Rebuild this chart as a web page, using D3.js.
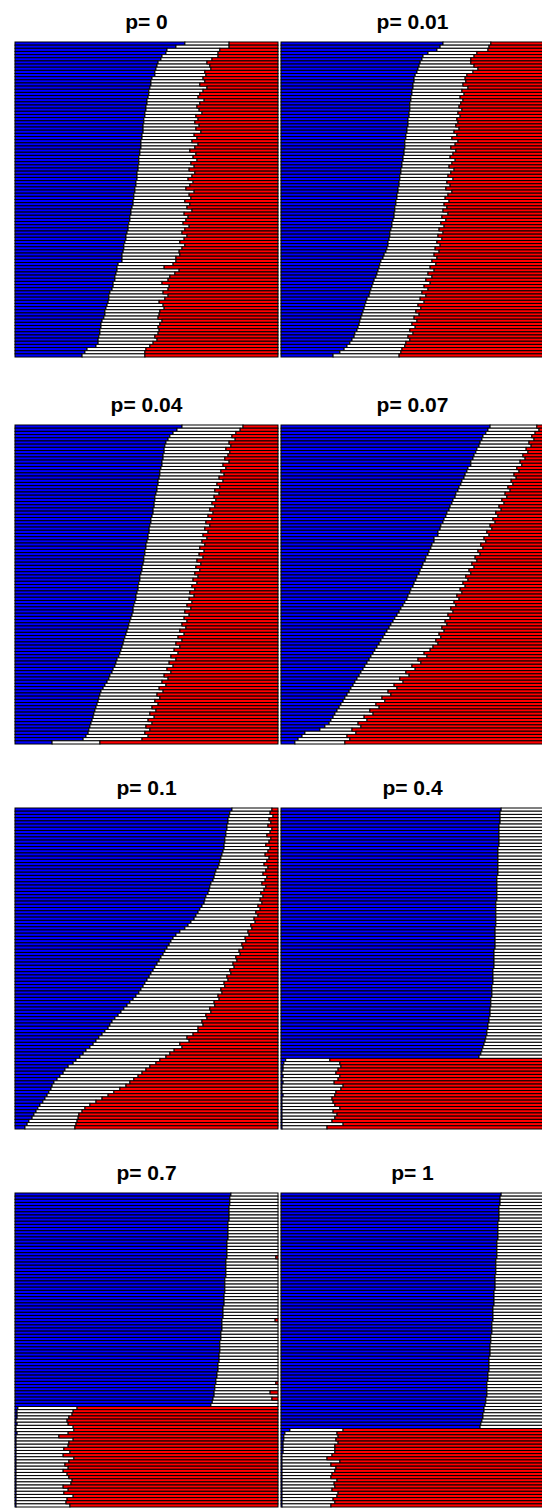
<!DOCTYPE html>
<html>
<head>
<meta charset="utf-8">
<script src="https://cdn.jsdelivr.net/npm/d3@7"></script>
<style>
  body { margin: 0; background: #fff; }
  svg { display: block; }
</style>
</head>
<body>
<svg id="chart" width="542" height="1508"></svg>
<script>
'use strict'

// panel titles
var titles = ["p= 0", "p= 0.01", "p= 0.04", "p= 0.07", "p= 0.1", "p= 0.4", "p= 0.7", "p= 1"];

// shares in %, first value = top bar; white is what is left over
var blue0 = [
  64.6,61.2,57.8,57.4,55.9,55.5,54.4,54.0,53.6,53.2,
  53.2,52.1,51.7,51.7,51.3,50.9,50.9,50.6,50.2,50.2,
  49.8,49.8,49.4,49.4,49.0,49.0,48.7,48.7,48.7,48.3,
  48.3,47.9,47.9,47.9,47.5,47.5,47.1,47.1,47.1,46.8,
  46.8,46.4,46.4,46.4,46.0,46.0,45.6,45.6,45.2,45.2,
  44.9,44.9,44.5,44.1,44.1,43.7,43.7,43.3,43.0,43.0,
  42.6,42.2,42.2,41.8,41.4,41.4,41.1,40.7,40.7,40.7,
  39.2,38.8,38.8,38.4,38.0,38.0,37.3,37.3,36.9,36.1,
  35.7,35.7,35.4,35.0,34.6,34.2,34.2,33.8,33.1,32.7,
  32.7,32.3,32.3,31.9,31.6,31.6,30.8,27.4,26.6,25.5
];
var red0 = [
  18.6,18.6,22.1,22.8,22.8,25.1,27.0,25.9,25.5,27.8,
  27.4,28.5,27.8,29.7,27.0,28.5,29.7,30.4,28.1,29.7,
  30.8,30.0,28.9,31.2,30.4,31.6,30.0,31.2,29.3,31.9,
  30.8,32.7,30.4,31.6,33.5,31.2,32.3,30.8,33.1,31.9,
  33.8,31.6,32.7,34.2,32.3,33.5,35.0,31.9,33.8,33.1,
  35.4,33.5,34.6,32.7,35.7,34.2,35.0,36.1,33.8,35.4,
  36.5,34.6,35.7,37.3,35.4,36.5,37.6,37.3,38.8,38.8,
  39.9,43.3,37.6,39.2,41.1,41.8,44.1,41.4,41.8,43.7,
  41.8,43.0,45.2,43.7,43.3,44.9,45.2,45.6,44.1,44.9,
  45.6,45.2,45.6,46.8,46.0,47.5,48.7,50.2,50.6,50.6
];

var blue1 = [
  61.6,60.5,59.3,55.9,54.0,53.6,52.9,52.5,52.1,51.7,
  51.0,50.6,50.6,50.2,50.2,49.8,49.8,49.4,49.4,49.0,
  49.0,49.0,48.7,48.7,48.3,48.3,48.3,47.9,47.9,47.5,
  47.5,47.1,47.1,47.1,46.8,46.8,46.4,46.4,46.0,46.0,
  45.6,45.6,45.2,45.2,44.9,44.9,44.5,44.5,44.1,44.1,
  43.7,43.7,43.3,43.3,43.0,43.0,42.6,42.2,42.2,41.8,
  41.4,41.4,41.1,40.7,40.7,40.3,39.9,39.2,38.8,38.0,
  37.6,37.3,36.9,36.5,36.1,35.4,35.0,34.6,34.2,33.8,
  33.5,32.7,32.3,31.9,31.6,31.2,30.8,30.4,30.0,29.7,
  29.3,28.9,28.1,27.8,27.0,26.2,25.1,24.0,22.4,19.8
];
var red1 = [
  20.2,20.9,21.3,25.5,26.6,27.8,27.8,26.6,25.1,27.0,
  29.3,30.0,29.7,30.8,28.9,31.2,30.4,31.9,30.8,31.6,
  32.3,31.2,32.7,31.9,33.1,32.7,33.5,32.3,34.2,33.1,
  35.0,32.7,33.8,35.4,33.5,34.6,35.7,33.8,35.0,36.1,
  34.2,35.4,36.5,34.6,36.9,35.7,37.3,35.0,36.5,37.6,
  36.1,38.0,36.9,38.4,36.5,38.8,37.3,39.2,38.0,39.9,
  38.4,40.3,38.8,40.7,39.5,41.4,39.9,41.8,40.7,42.6,
  41.1,43.3,41.8,44.1,42.6,44.9,43.3,45.6,44.1,46.4,
  44.9,47.1,45.6,47.9,46.8,48.7,47.5,49.4,48.3,50.2,
  49.0,51.0,49.8,51.7,51.0,52.5,52.9,54.0,54.4,55.1
];

var blue2 = [
  63.5,61.6,60.1,58.9,58.2,57.4,57.0,56.7,56.7,56.3,
  56.3,55.9,55.9,55.5,55.1,55.1,54.8,54.4,54.4,54.0,
  54.0,53.6,53.2,53.2,52.9,52.9,52.5,52.5,52.1,51.7,
  51.7,51.3,51.0,51.0,50.6,50.6,50.2,49.8,49.8,49.4,
  49.4,49.0,49.0,48.7,48.3,48.3,47.9,47.5,47.5,47.1,
  46.8,46.8,46.4,46.0,46.0,45.6,45.2,44.9,44.9,44.5,
  44.1,43.7,43.3,43.0,42.6,42.2,41.8,41.4,41.1,40.7,
  40.3,39.9,39.5,38.8,38.4,38.0,37.3,36.9,36.1,35.7,
  35.0,34.2,33.5,32.7,32.3,31.9,31.6,31.2,30.8,30.4,
  30.0,29.7,29.3,28.9,28.5,28.1,27.8,27.0,25.9,14.1
];
var red2 = [
  13.3,14.4,16.0,17.5,16.3,18.6,17.9,19.8,18.3,19.0,
  20.2,18.6,20.9,19.8,21.7,20.5,22.4,20.9,23.2,22.1,
  24.0,22.4,24.3,23.6,25.1,24.0,25.9,24.7,26.6,25.1,
  27.4,25.9,27.8,26.6,28.5,27.0,28.9,27.8,29.7,28.1,
  30.0,28.5,30.8,29.3,31.2,29.7,31.6,30.4,32.3,30.8,
  32.7,31.6,33.5,31.9,33.8,32.7,34.6,33.1,35.4,33.8,
  35.7,34.6,36.5,35.0,37.3,35.7,38.0,36.5,38.8,37.3,
  39.5,38.0,40.7,38.8,41.4,39.9,42.2,40.7,43.3,41.8,
  44.1,42.6,45.2,43.7,46.0,44.9,46.8,45.6,47.9,46.4,
  48.7,47.1,49.4,47.9,50.2,48.7,50.6,49.4,51.7,67.7
];

var blue3 = [
  79.5,78.7,77.9,76.8,76.4,75.7,75.3,74.5,74.1,73.4,
  73.0,72.2,72.2,71.1,70.7,70.0,69.6,68.8,68.4,67.7,
  67.3,66.5,66.2,65.4,65.0,64.3,63.9,63.1,62.7,62.0,
  61.6,60.8,60.5,59.7,59.7,58.2,58.2,57.4,57.0,56.3,
  55.9,55.1,54.8,54.0,53.6,52.9,52.5,51.7,51.3,50.6,
  50.2,49.4,49.0,48.3,47.9,47.1,46.4,45.6,44.9,44.1,
  43.3,42.6,41.8,41.1,40.3,39.5,38.8,38.0,37.3,36.5,
  35.7,35.0,34.2,33.5,32.7,31.9,31.2,30.4,29.7,28.9,
  28.1,27.4,26.6,25.9,25.1,24.3,23.6,22.8,22.1,21.3,
  20.5,19.8,19.0,18.3,16.7,14.8,9.1,8.0,6.5,5.3
];
var red3 = [
  2.7,1.9,3.4,4.6,3.8,5.7,4.9,6.8,6.1,8.0,
  7.2,9.1,8.4,10.3,9.5,11.4,10.6,12.5,11.8,13.7,
  12.9,14.8,14.1,16.0,15.2,17.1,16.3,18.3,17.5,19.4,
  18.6,20.5,19.8,21.7,20.9,22.8,22.1,24.0,23.2,25.1,
  24.3,26.2,25.5,27.4,26.6,28.5,27.8,29.7,28.9,30.8,
  30.0,31.9,31.2,33.1,32.3,34.2,33.5,35.4,34.6,36.5,
  35.7,37.6,36.9,38.8,38.0,39.9,39.2,41.1,40.3,42.2,
  43.3,45.6,44.5,47.9,46.8,50.2,49.0,52.5,51.3,54.8,
  53.6,57.0,55.9,59.3,58.2,61.6,60.5,63.9,62.7,66.2,
  65.0,68.4,67.3,70.7,69.6,73.0,71.5,74.9,73.8,75.7
];

var blue4 = [
  82.5,81.7,81.4,81.0,81.0,80.6,80.6,80.2,80.2,79.8,
  79.8,79.5,79.5,79.1,78.7,78.3,77.9,77.6,77.2,76.4,
  76.0,75.7,75.3,74.5,74.1,73.8,73.4,72.6,72.2,71.9,
  71.1,70.3,69.6,68.8,68.1,66.9,65.8,64.6,62.7,61.2,
  60.1,59.3,58.6,57.8,57.0,56.3,55.5,54.8,54.0,53.2,
  52.5,51.7,51.0,50.2,49.4,48.7,47.9,47.1,46.0,44.9,
  43.7,42.6,41.4,40.3,39.2,38.0,36.9,36.1,35.4,34.2,
  33.1,31.9,30.8,29.7,28.5,27.0,25.9,24.7,23.2,22.1,
  20.2,19.0,18.3,17.1,16.0,14.8,14.1,13.7,12.9,12.2,
  11.4,10.6,9.5,8.7,8.0,7.2,6.5,5.3,4.6,3.8
];
var red4 = [
  2.3,3.0,1.9,3.4,2.7,3.8,2.3,3.0,4.2,2.7,
  3.4,4.6,3.0,3.8,4.9,3.4,4.2,5.3,3.8,4.6,
  5.7,4.2,4.9,6.1,4.6,5.3,6.5,5.7,6.8,6.1,
  7.6,6.8,8.4,7.6,9.1,8.7,10.3,9.9,11.4,11.0,
  12.5,12.2,13.7,13.3,14.8,14.4,16.0,15.6,17.1,16.7,
  18.3,17.9,19.4,19.0,20.5,20.2,21.7,21.3,22.8,22.4,
  24.3,24.0,25.9,25.5,27.4,27.0,28.9,28.5,30.4,30.4,
  32.3,34.6,33.8,37.3,36.5,39.5,41.1,42.6,44.9,46.4,
  48.7,50.2,51.7,53.2,54.8,56.3,57.8,60.1,62.4,64.6,
  66.9,69.2,71.5,73.4,74.5,75.7,76.0,76.4,76.8,77.2
];

var blue5 = [
  83.7,83.3,83.3,83.3,83.3,82.9,82.9,82.9,82.9,82.9,
  82.9,82.9,82.5,82.5,82.5,82.5,82.5,82.5,82.5,82.5,
  82.5,82.1,82.1,82.1,82.1,82.1,82.1,82.1,82.1,81.7,
  81.7,81.7,81.7,81.7,81.7,81.7,81.7,81.4,81.4,81.4,
  81.4,81.4,81.4,81.4,81.0,81.0,81.0,81.0,81.0,81.0,
  80.6,80.6,80.6,80.6,80.6,80.2,80.2,80.2,80.2,79.8,
  79.8,79.8,79.5,79.5,79.5,79.1,79.1,78.7,78.7,78.3,
  78.3,77.9,77.6,77.2,76.8,76.4,76.0,75.3,1.8,1.1,
  0.8,0.8,0.4,0.8,0.4,0.8,0.4,0.4,0.4,0.8,
  0.4,0.4,0.4,0.4,0.4,0.4,0.4,0.4,0.4,0.4
];
var red5 = [
  0,0,0,0,0,0,0,0,0,0,
  0,0,0,0,0,0,0,0,0,0,
  0,0,0,0,0,0,0,0,0,0,
  0,0,0,0,0,0,0,0,0,0,
  0,0,0,0,0,0,0,0,0,0,
  0,0,0,0,0,0,0,0,0,0,
  0,0,0,0,0,0,0,0,0,0,
  0,0,0,0,0,0,0,0,81.4,77.6,
  77.2,78.3,79.1,77.6,78.3,79.8,76.4,77.2,79.1,79.5,
  80.6,80.2,79.5,77.6,80.2,78.7,79.5,80.6,76.4,82.5
];

var blue6 = [
  82.1,81.7,81.7,81.7,81.4,81.4,81.4,81.4,81.4,81.0,
  81.0,81.0,81.0,81.0,81.0,80.6,80.6,80.6,80.6,80.6,
  80.6,80.2,80.2,80.2,80.2,80.2,80.2,79.8,79.8,79.8,
  79.8,79.8,79.5,79.5,79.5,79.5,79.1,79.1,79.1,79.1,
  78.7,78.7,78.7,78.7,78.3,78.3,78.3,77.9,77.9,77.9,
  77.9,77.6,77.6,77.6,77.2,77.2,77.2,76.8,76.8,76.4,
  76.4,76.0,76.0,75.7,75.7,75.3,75.0,74.5,1.1,0.8,
  0.8,0.8,0.4,0.8,0.4,0.4,0.8,0.4,0.4,0.4,
  0.4,0.4,0.4,0.4,0.4,0.4,0.4,0.4,0.4,0.4,
  0.4,0.4,0.4,0.4,0.4,0.4,0.4,0.4,0.4,0.4
];
var red6 = [
  0,0,0,0,0,0,0,0,0,0,
  0,0,0,0,0,0,0,0,0,0,
  0.8,0,0,0,0,0,0,0,0,0,
  0,0,0,0,0,0,0,0,0,0,
  1.1,0,0,0,0,0,0,0,0,0,
  0,0,0,0,0,0,0,0,0,0,
  0.8,0,0,3.0,0,2.3,0,0,76.4,77.9,
  78.3,79.5,80.2,79.8,77.9,77.6,79.8,83.3,77.9,79.5,
  79.8,81.4,79.1,81.7,77.6,79.5,81.0,79.8,81.7,80.2,
  79.5,78.3,78.7,81.7,79.8,81.4,77.9,80.2,80.6,79.1
];

var blue7 = [
  83.7,83.3,83.3,83.3,82.9,82.9,82.9,82.9,82.9,82.5,
  82.5,82.5,82.5,82.5,82.5,82.1,82.1,82.1,82.1,82.1,
  82.1,81.7,81.7,81.7,81.7,81.7,81.4,81.4,81.4,81.4,
  81.4,81.0,81.0,81.0,81.0,81.0,80.6,80.6,80.6,80.6,
  80.6,80.2,80.2,80.2,80.2,79.8,79.8,79.8,79.5,79.5,
  79.5,79.5,79.1,79.1,79.1,79.1,79.1,78.7,78.7,78.7,
  78.3,78.3,78.3,78.3,78.3,77.9,77.9,77.6,77.2,77.2,
  76.8,76.8,76.4,76.0,75.7,3.4,1.5,1.1,1.1,0.8,
  0.8,0.8,0.8,0.4,0.4,0.4,0.4,0.4,0.4,0.4,
  0.4,0.4,0.4,0.4,0.4,0.4,0.4,0.4,0.4,0.4
];
var red7 = [
  0,0,0,0,0,0,0,0,0,0,
  0,0,0,0,0,0,0,0,0,0,
  0,0,0,0,0,0,0,0,0,0,
  0,0,0,0,0,0,0,0,0,0,
  0,0,0,0,0,0,0,0,0,0,
  0,0,0,0,0,0,0,0,0,0,
  0,0,0,0,0,0,0,0,0,0,
  0,0,0,0,0,76.4,78.7,78.3,79.1,78.3,
  79.5,79.5,79.5,80.6,82.5,77.6,81.0,79.1,79.5,80.6,
  81.0,78.7,79.8,79.5,80.6,78.3,78.7,80.2,79.5,81.0
];

var blues = [blue0, blue1, blue2, blue3, blue4, blue5, blue6, blue7];
var reds = [red0, red1, red2, red3, red4, red5, red6, red7];

var colors = { blue: "#0000ff", white: "#ffffff", red: "#ff0000" };

// layout of the 4x2 grid
var colLeft = [15, 281];
var panelWidth = 263;
var rowTop = [42, 425, 808, 1193];
var rowHeight = [315, 319, 321, 314];

var svg = d3.select("#chart");

titles.forEach(function(title, i) {
  var col = i % 2;
  var row = Math.floor(i / 2);

  var rows = blues[i].map(function(b, k) {
    var r = reds[i][k];
    return { id: k, blue: b, white: 100 - b - r, red: r };
  });

  var x = d3.scaleLinear().domain([0, 100]).range([colLeft[col], colLeft[col] + panelWidth]);
  var y = d3.scaleBand()
    .domain(rows.map(function(d) { return d.id; }))
    .range([rowTop[row], rowTop[row] + rowHeight[row]])
    .padding(0);

  var series = d3.stack().keys(["blue", "white", "red"])(rows);

  var panel = svg.append("g").attr("class", "panel");

  panel.selectAll("g")
    .data(series)
    .join("g")
    .attr("fill", function(s) { return colors[s.key]; })
    .selectAll("rect")
    .data(function(s) { return s; })
    .join("rect")
    .attr("x", function(d) { return x(d[0]); })
    .attr("width", function(d) { return x(d[1]) - x(d[0]); })
    .attr("y", function(d) { return y(d.data.id); })
    .attr("height", y.bandwidth())
    .attr("stroke", "#000")
    .attr("stroke-width", 1);

  // title over the panel
  svg.append("text")
    .attr("x", colLeft[col] + panelWidth / 2)
    .attr("y", rowTop[row] - 13)
    .attr("text-anchor", "middle")
    .attr("font-family", "Liberation Sans, Arial, sans-serif")
    .attr("font-weight", "bold")
    .attr("font-size", 21)
    .text(title);
});
</script>
</body>
</html>
